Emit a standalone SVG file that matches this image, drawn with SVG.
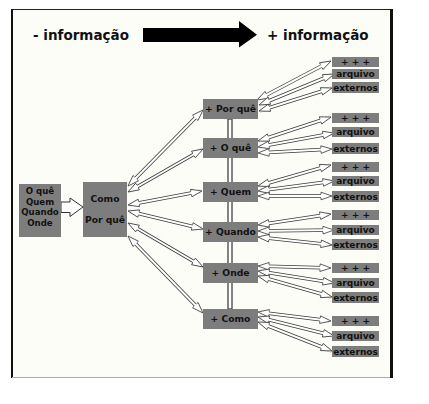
<svg xmlns="http://www.w3.org/2000/svg" width="429" height="404" viewBox="0 0 429 404">
<style>
.box{fill:#7d7d7d}
.t{font-family:"DejaVu Sans",Verdana,sans-serif;font-weight:bold;fill:#111;text-anchor:middle;font-size:9.2px}
.s{font-size:9px}
.h{font-family:"DejaVu Sans",Verdana,sans-serif;font-weight:bold;fill:#111;font-size:13.5px}
.o{stroke:#3a3a3a;stroke-width:3.6;marker-start:url(#mk);marker-end:url(#mk)}
.i{stroke:#fff;stroke-width:2;marker-start:url(#hd);marker-end:url(#hd)}
</style>
<defs>
<marker id="mk" markerUnits="userSpaceOnUse" markerWidth="14" markerHeight="10" refX="12" refY="5" orient="auto-start-reverse" overflow="visible"><rect x="5.5" y="2.9" width="7.5" height="4.2" fill="#fdfdf8"/></marker>
<marker id="hd" markerUnits="userSpaceOnUse" markerWidth="14" markerHeight="10" refX="12" refY="5" orient="auto-start-reverse" overflow="visible"><path d="M1,3.2 L1,1.2 L12,5 L1,8.8 L1,6.8" fill="#fff" stroke="#3a3a3a" stroke-width="0.8"/></marker>
</defs>
<rect width="429" height="404" fill="#fff"/>
<g id="frame">
<rect x="12" y="9.5" width="379" height="368" fill="#fdfdf8"/>
<line x1="11" y1="9.5" x2="393" y2="9.5" stroke="#222" stroke-width="1"/>
<line x1="12" y1="9" x2="12" y2="378" stroke="#111" stroke-width="2"/>
<line x1="391.5" y1="9" x2="391.5" y2="378" stroke="#111" stroke-width="3"/>
<line x1="12" y1="377.5" x2="390" y2="377.5" stroke="#aaa" stroke-width="1"/>
</g>
<g id="header">
<text class="h" x="33" y="40">- informação</text>
<polygon points="143,28 239,28 239,21 257,34.7 239,47.5 239,42 143,42" fill="#000"/>
<text class="h" x="267" y="40">+ informação</text>
</g>
<g id="connectors" fill="none">
<polygon points="61,202 70,202 70,198 83,207 70,216.5 70,212.5 61,212.5" fill="#fff" stroke="#333" stroke-width="1"/>
<rect x="228" y="119" width="4" height="190" fill="#fff" stroke="#333" stroke-width="1.2"/>
<line class="o" x1="128" y1="186" x2="203" y2="110"/><line class="i" x1="128" y1="186" x2="203" y2="110"/>
<line class="o" x1="128" y1="192" x2="203" y2="149"/><line class="i" x1="128" y1="192" x2="203" y2="149"/>
<line class="o" x1="128" y1="205" x2="202" y2="191"/><line class="i" x1="128" y1="205" x2="202" y2="191"/>
<line class="o" x1="128" y1="211" x2="203" y2="229"/><line class="i" x1="128" y1="211" x2="203" y2="229"/>
<line class="o" x1="128" y1="223" x2="203" y2="267"/><line class="i" x1="128" y1="223" x2="203" y2="267"/>
<line class="o" x1="128" y1="236" x2="203" y2="313"/><line class="i" x1="128" y1="236" x2="203" y2="313"/>

<line class="o" x1="257" y1="100" x2="331" y2="61"/><line class="i" x1="257" y1="100" x2="331" y2="61"/>
<line class="o" x1="259" y1="105" x2="334" y2="74"/><line class="i" x1="259" y1="105" x2="334" y2="74"/>
<line class="o" x1="259" y1="111" x2="332" y2="88"/><line class="i" x1="259" y1="111" x2="332" y2="88"/>

<line class="o" x1="258" y1="141" x2="331" y2="117"/><line class="i" x1="258" y1="141" x2="331" y2="117"/>
<line class="o" x1="258" y1="147" x2="334" y2="133"/><line class="i" x1="258" y1="147" x2="334" y2="133"/>
<line class="o" x1="258" y1="153" x2="332" y2="149"/><line class="i" x1="258" y1="153" x2="332" y2="149"/>

<line class="o" x1="258" y1="186" x2="331" y2="165"/><line class="i" x1="258" y1="186" x2="331" y2="165"/>
<line class="o" x1="258" y1="191" x2="334" y2="181"/><line class="i" x1="258" y1="191" x2="334" y2="181"/>
<line class="o" x1="258" y1="196" x2="332" y2="196"/><line class="i" x1="258" y1="196" x2="332" y2="196"/>

<line class="o" x1="258" y1="225" x2="331" y2="214"/><line class="i" x1="258" y1="225" x2="331" y2="214"/>
<line class="o" x1="258" y1="231" x2="334" y2="230"/><line class="i" x1="258" y1="231" x2="334" y2="230"/>
<line class="o" x1="258" y1="237" x2="332" y2="245"/><line class="i" x1="258" y1="237" x2="332" y2="245"/>

<line class="o" x1="258" y1="266" x2="331" y2="268"/><line class="i" x1="258" y1="266" x2="331" y2="268"/>
<line class="o" x1="258" y1="271" x2="334" y2="283"/><line class="i" x1="258" y1="271" x2="334" y2="283"/>
<line class="o" x1="258" y1="276" x2="332" y2="297"/><line class="i" x1="258" y1="276" x2="332" y2="297"/>

<line class="o" x1="258" y1="312" x2="331" y2="321"/><line class="i" x1="258" y1="312" x2="331" y2="321"/>
<line class="o" x1="258" y1="317" x2="334" y2="336"/><line class="i" x1="258" y1="317" x2="334" y2="336"/>
<line class="o" x1="258" y1="322" x2="332" y2="351"/><line class="i" x1="258" y1="322" x2="332" y2="351"/>
</g>
<g id="n-inicio"><rect class="box" x="19" y="184" width="42" height="53"/>
<text class="t" x="40" y="193.8" style="font-size:8.6px">O quê</text><text class="t" x="40" y="204.8" style="font-size:8.6px">Quem</text><text class="t" x="40" y="215.2" style="font-size:8.6px">Quando</text><text class="t" x="40" y="225.8" style="font-size:8.6px">Onde</text></g>
<g id="n-como-porque"><rect class="box" x="83" y="182" width="44" height="55"/>
<text class="t" x="105" y="201.5">Como</text><text class="t" x="105" y="223">Por quê</text></g>
<g id="n-porque"><rect class="box" x="203" y="99" width="55" height="20"/><text class="t" x="230.5" y="112.3">+ Por quê</text></g>
<g id="n-oque"><rect class="box" x="203" y="138" width="55" height="20"/><text class="t" x="230.5" y="151.3">+ O quê</text></g>
<g id="n-quem"><rect class="box" x="203" y="182" width="55" height="20"/><text class="t" x="230.5" y="195.3">+ Quem</text></g>
<g id="n-quando"><rect class="box" x="203" y="222" width="55" height="20"/><text class="t" x="230.5" y="235.3">+ Quando</text></g>
<g id="n-onde"><rect class="box" x="203" y="263" width="55" height="20"/><text class="t" x="230.5" y="276.3">+ Onde</text></g>
<g id="n-como"><rect class="box" x="203" y="309" width="55" height="20"/><text class="t" x="230.5" y="322.3">+ Como</text></g>
<g id="g1">
<rect class="box" x="332" y="57" width="47" height="10"/><text class="t s" x="355.5" y="65.2">+ + +</text>
<rect class="box" x="332" y="69" width="47" height="10"/><text class="t s" x="355.5" y="77.2">arquivo</text>
<rect class="box" x="332" y="82" width="47" height="11"/><text class="t s" x="355.5" y="90.7">externos</text></g>
<g id="g2">
<rect class="box" x="332" y="113" width="47" height="10"/><text class="t s" x="355.5" y="121.2">+ + +</text>
<rect class="box" x="332" y="127" width="47" height="10"/><text class="t s" x="355.5" y="135.2">arquivo</text>
<rect class="box" x="332" y="143" width="47" height="11"/><text class="t s" x="355.5" y="151.7">externos</text></g>
<g id="g3">
<rect class="box" x="332" y="162" width="47" height="10"/><text class="t s" x="355.5" y="170.2">+ + +</text>
<rect class="box" x="332" y="176" width="47" height="10"/><text class="t s" x="355.5" y="184.2">arquivo</text>
<rect class="box" x="332" y="191" width="47" height="11"/><text class="t s" x="355.5" y="199.7">externos</text></g>
<g id="g4">
<rect class="box" x="332" y="210" width="47" height="10"/><text class="t s" x="355.5" y="218.2">+ + +</text>
<rect class="box" x="332" y="225" width="47" height="10"/><text class="t s" x="355.5" y="233.2">arquivo</text>
<rect class="box" x="332" y="239" width="47" height="11"/><text class="t s" x="355.5" y="247.7">externos</text></g>
<g id="g5">
<rect class="box" x="332" y="263" width="47" height="10"/><text class="t s" x="355.5" y="271.2">+ + +</text>
<rect class="box" x="332" y="278" width="47" height="10"/><text class="t s" x="355.5" y="286.2">arquivo</text>
<rect class="box" x="332" y="292" width="47" height="11"/><text class="t s" x="355.5" y="300.7">externos</text></g>
<g id="g6">
<rect class="box" x="332" y="316" width="47" height="10"/><text class="t s" x="355.5" y="324.2">+ + +</text>
<rect class="box" x="332" y="331" width="47" height="10"/><text class="t s" x="355.5" y="339.2">arquivo</text>
<rect class="box" x="332" y="346" width="47" height="11"/><text class="t s" x="355.5" y="354.7">externos</text></g>
</svg>
